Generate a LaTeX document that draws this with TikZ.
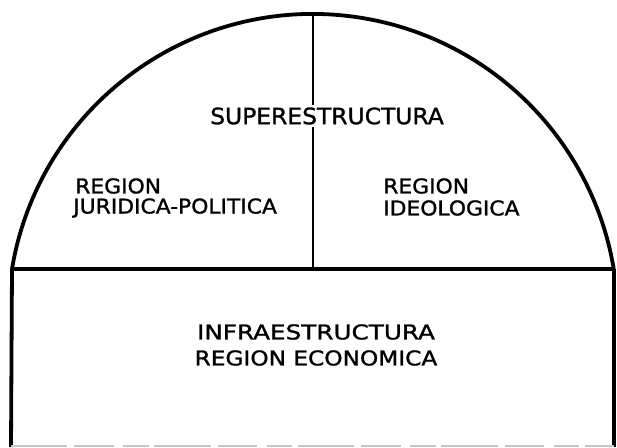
\documentclass[tikz,border=0pt]{standalone}
\usepackage{fontspec}
\setmainfont{DejaVu Sans}[BoldFont={DejaVu Sans}, BoldFeatures={FakeBold=1.2}]
\newcommand{\wide}[2]{\scalebox{#1}[1]{#2}}
\tikzstyle{lbig}=[inner sep=1.5pt, fill=white, font=\fontsize{16}{18}\selectfont\bfseries]
\tikzstyle{lsmall}=[inner sep=0pt, font=\fontsize{14.5}{16}\selectfont\bfseries]
\tikzstyle{heavy}=[line width=2.7pt]

\begin{document}
\begin{tikzpicture}[x=0.025cm, y=-0.025cm]
\useasboundingbox (0,0) rectangle (617,447);

% corners of the arch and the box
\coordinate (bl) at (12,269);
\coordinate (br) at (614,269);
\coordinate (top) at (313,14);
\coordinate (mid) at (313,269);
\coordinate (fl) at (11,447);
\coordinate (fr) at (614,447);
\coordinate (gl) at (11,446);
\coordinate (gr) at (614,446);

\draw[heavy] (bl) arc[start angle=189.43, end angle=350.57, radius=305];
\draw[heavy] (bl) -- (br);
\draw[line width=1.5pt] (top) -- (mid);
\draw[heavy] (bl) -- (fl);
\draw[heavy] (br) -- (fr);
\draw[gray!45, line width=0.8pt, dash pattern=on 40pt off 5pt on 28pt off 7pt on 18pt off 4pt] (gl) -- (gr);

\node[lbig] (sup) at (327,116) {\wide{1.04}{SUPERESTRUCTURA}};

\node[lsmall, anchor=west] (jp1) at (75,186) {\wide{1.07}{REGION}};
\node[lsmall, anchor=west] (jp2) at (73,208) {\wide{1.07}{JURIDICA-POLITICA}};
\node[lsmall, anchor=west] (id1) at (383,186) {\wide{1.07}{REGION}};
\node[lsmall, anchor=west] (id2) at (383,208) {\wide{1.07}{IDEOLOGICA}};

\node[lsmall] (inf) at (316,332) {\wide{1.21}{INFRAESTRUCTURA}};
\node[lsmall] (eco) at (316,358) {\wide{1.14}{REGION ECONOMICA}};

\end{tikzpicture}
\end{document}
